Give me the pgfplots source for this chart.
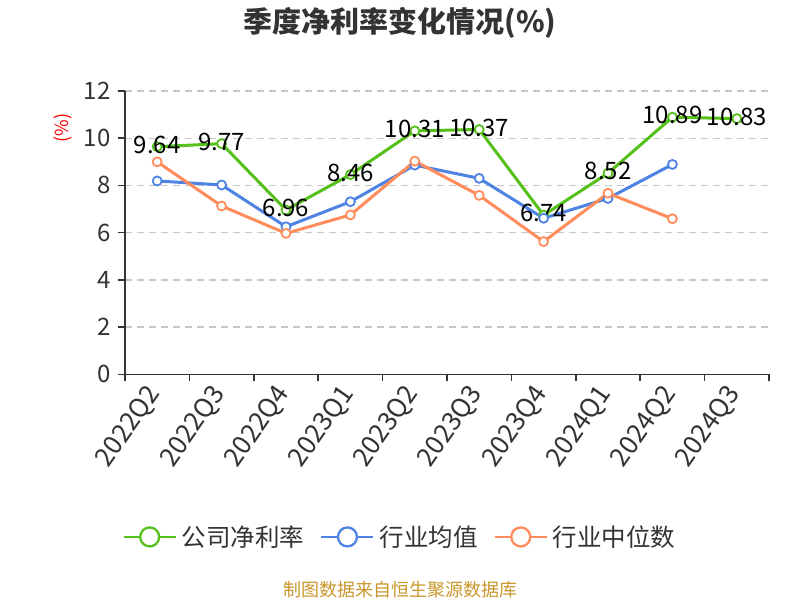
\documentclass[border=0pt]{standalone}
\usepackage{fontspec}
\setmainfont{Noto Sans CJK SC}
\usepackage{pgfplots}
\pgfplotsset{compat=1.18}
\definecolor{cgreen}{HTML}{55C01A}
\definecolor{cblue}{HTML}{4F83E3}
\definecolor{corange}{HTML}{FF8C5A}
\definecolor{ctext}{HTML}{333333}
\definecolor{cfoot}{HTML}{C8962C}
\newcommand{\fs}[1]{\fontsize{#1}{#1}\selectfont}

\begin{document}
\begin{tikzpicture}
\begin{axis}[
    at={(0pt,0pt)}, anchor=south west,
    scale only axis,
    width=644pt, height=283.3pt,
    xmin=-0.5, xmax=9.5,
    ymin=0, ymax=12,
    clip=false,
    axis x line*=bottom,
    axis y line*=left,
    axis line style={-, draw=ctext, line width=1.6pt},
    xtick={-0.5,0.5,...,9.5},
    x tick label as interval,
    xticklabels={2022Q2,2022Q3,2022Q4,2023Q1,2023Q2,2023Q3,2023Q4,2024Q1,2024Q2,2024Q3},
    ytick={0,2,...,12},
    tick align=outside,
    major tick length=7pt,
    tick style={draw=ctext, line width=1.6pt},
    ymajorgrids=true,
    grid style={draw=black!22, line width=1.3pt, dash pattern=on 7pt off 5pt},
    xticklabel style={rotate=55, anchor=east, font=\fs{26}, text=ctext},
    xticklabel shift=5pt,
    yticklabel style={font=\fs{24}, text=ctext},
    yticklabel shift=4pt,
    /pgf/number format/assume math mode=true,
    legend columns=3,
    legend style={
        at={(axis description cs:0.427,-0.574)}, anchor=center,
        draw=none, fill=none, font=\fs{24.5}, text=ctext,
        /tikz/every odd column/.append style={column sep=3pt},
        /tikz/every even column/.append style={column sep=14pt},
    },
]
\addplot[cgreen, line width=3pt, mark=*, mark size=4.5pt,
    mark options={fill=white, line width=1.8pt},
    nodes near coords={\pgfmathprintnumber[fixed,fixed zerofill,precision=2]{\pgfplotspointmeta}},
    nodes near coords style={anchor=center, yshift=2pt, font=\fs{24}, text=black},
    legend image code/.code={
        \draw[cgreen, line width=2.3pt] (-2pt,0pt) -- (50pt,0pt);
        \draw[cgreen, line width=2.3pt, fill=white] (24pt,0pt) circle (9.5pt);}
] coordinates {
    (0,9.64) (1,9.77) (2,6.96) (3,8.46) (4,10.31)
    (5,10.37) (6,6.74) (7,8.52) (8,10.89) (9,10.83)
};
\addlegendentry{公司净利率}
\addplot[cblue, line width=3pt, mark=*, mark size=4.5pt,
    mark options={fill=white, line width=1.8pt},
    legend image code/.code={
        \draw[cblue, line width=2.3pt] (-2pt,0pt) -- (50pt,0pt);
        \draw[cblue, line width=2.3pt, fill=white] (24pt,0pt) circle (9.5pt);}
] coordinates {
    (0,8.19) (1,8.02) (2,6.25) (3,7.31) (4,8.86)
    (5,8.30) (6,6.61) (7,7.45) (8,8.89)
};
\addlegendentry{行业均值}
\addplot[corange, line width=3pt, mark=*, mark size=4.5pt,
    mark options={fill=white, line width=1.8pt},
    legend image code/.code={
        \draw[corange, line width=2.3pt] (-2pt,0pt) -- (50pt,0pt);
        \draw[corange, line width=2.3pt, fill=white] (24pt,0pt) circle (9.5pt);}
] coordinates {
    (0,9.00) (1,7.13) (2,5.97) (3,6.75) (4,9.03)
    (5,7.58) (6,5.62) (7,7.67) (8,6.59)
};
\addlegendentry{行业中位数}
\end{axis}
% titles and notes, 1pt = 1px of the reference, origin at the axis corner
\node[font=\fs{29}\bfseries, text=ctext] at (275pt,351pt) {季度净利率变化情况(\%)};
\node[font=\fs{18}, text=red, rotate=90] at (-62pt,246.5pt) {(\%)};
\node[font=\fs{18}, text=cfoot] at (275pt,-215.7pt) {制图数据来自恒生聚源数据库};
\pgfresetboundingbox
\useasboundingbox (-125pt,-225.7pt) rectangle (675pt,374.3pt);
\end{tikzpicture}
\end{document}
